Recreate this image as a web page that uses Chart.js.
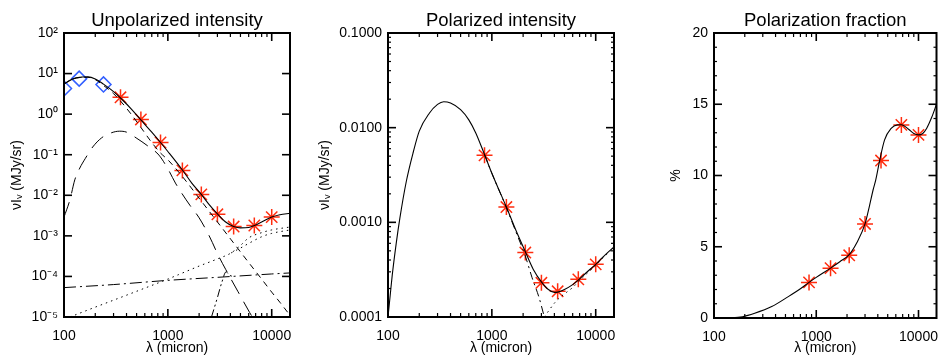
<!DOCTYPE html>
<html>
<head>
<meta charset="utf-8">
<script src="https://cdn.jsdelivr.net/npm/chart.js@4.4.1/dist/chart.umd.min.js"></script>
<style>
  body { margin: 0; background: #fff; width: 946px; height: 358px; overflow: hidden; position: relative; }
  canvas { position: absolute; top: 0; }
</style>
</head>
<body>
<canvas id="c_unpol" width="312" height="358" style="left:0px"></canvas>
<canvas id="c_pol" width="330" height="358" style="left:305px"></canvas>
<canvas id="c_frac" width="306" height="358" style="left:640px"></canvas>
<script>
// ---- panel 1 : unpolarized intensity (MJy/sr) ----
var lamTot = [100,120,150,170,200,240,300,350,450,550,700,850,1000,1380,1700,2100,2500,3000,3600,4300,5000,6000,6800,8000,10000,12000,15000];
var totI   = [5.5,7.3,8.2,8.3,7.4,5.5,3.6,2.5,1.3,0.72,0.36,0.2,0.12,0.042,0.02,0.0105,0.0059,0.0035,0.0022,0.0017,0.00157,0.0016,0.0018,0.0022,0.0029,0.0033,0.0036];
// main dust (short dash)
var lamDust1 = [100,120,150,170,200,240,300,350,450,550,700,850,1000,1380,2100,3000,4070,6000,8000,10000,12000,15000];
var dust1    = [5.5,7.25,8.1,8.1,7.1,5.1,3.2,2.1,0.95,0.47,0.2,0.11,0.075,0.029,0.0072,0.0022,0.0008,0.00022,0.000086,0.000041,0.000023,0.000011];
// second dust (long dash)
var lamDust2 = [100,114,127,142,160,189,230,280,341,400,495,650,820,1000,1183,1368,1645,1980,2500,3060,3600,4740,6120,6500];
var dust2    = [0.0029,0.0077,0.024,0.047,0.08,0.155,0.26,0.34,0.38,0.36,0.26,0.16,0.098,0.045,0.02,0.011,0.0055,0.0029,0.001,0.00033,0.00015,0.000042,0.000013,0.00001];
// dotted components
var lamMag1 = [114,200,300,500,1000,1260,2000,3000,4070,5000,6000,8000,10000,15000];
var mag1    = [1e-5,1.75e-5,2.6e-5,4.3e-5,8.6e-5,1.1e-4,1.8e-4,2.7e-4,3.8e-4,5.8e-4,8.9e-4,1.2e-3,1.4e-3,1.65e-3];
var lamMag2 = [4070,5000,6000,8000,10000,15000];
var mag2    = [3.8e-4,5.0e-4,6.5e-4,9.5e-4,1.15e-3,1.4e-3];
// dash-dot (nearly flat) and dash-dot-dot (peaked) components
var lamSync = [100,300,1000,3000,10000,15000];
var sync    = [5.3e-5,6.3e-5,8e-5,9.5e-5,1.15e-4,1.22e-4];
var lamPeak = [2630,3000,3300,3640,3900,4200];
var peak    = [1e-5,3e-5,7e-5,1.3e-4,1.08e-4,1.0e-4];
// observed points
var lamDiam = [100,140,240];
var diamI   = [4.3,7.5,5.4];
var lamStar = [350,550,850,1380,2100,3000,4300,6800,10000];
var starI   = [2.6,0.74,0.2,0.041,0.0105,0.0034,0.0017,0.0018,0.0029];

// ---- panel 2 : polarized intensity ----
var lamP = [100,105,110,120,130,150,175,200,250,300,344,400,500,600,700,850,1000,1380,1700,2100,2500,3000,3500,4000,4300,5000,6000,6800,8000,10000,12000,15000];
var totP = [1.0e-4,1.7e-4,2.8e-4,6e-4,0.0011,0.0027,0.0055,0.0092,0.0142,0.0176,0.0188,0.0182,0.0155,0.0121,0.0088,0.0052,0.0033,0.00145,0.00083,0.00049,0.00032,0.000235,0.000195,0.000182,0.000183,0.000195,0.00022,0.000245,0.00029,0.00036,0.00044,0.00055];
var lamPDust = [850,1000,1380,1700,2100,2440,2850,3200];
var pDust    = [0.0052,0.0033,0.00143,0.0008,0.00044,0.00026,0.00016,0.0001];
var lamPMag = [3200,3600,4000,4500,5160,6000,6800,8000,10000,12000,15000];
var pMag    = [1.0e-4,1.2e-4,1.4e-4,1.6e-4,1.8e-4,0.000205,0.000235,0.00028,0.00035,0.00043,0.00054];
var lamStarP = [850,1380,2100,3000,4300,6800,10000];
var starP    = [0.0051,0.00145,0.00048,0.00023,0.000187,0.00025,0.00036];

// ---- panel 3 : polarization fraction (%) ----
var lamF  = [100,150,190,250,367,533,700,850,1000,1380,1700,2100,2500,3000,3300,3600,3820,4170,4660,5400,6200,6800,8000,9000,10000,11000,12000,13500,15000];
var fracF = [0,0.02,0.09,0.33,0.8,1.5,2.05,2.5,2.85,3.5,3.95,4.45,5.3,6.6,7.8,9.0,9.7,11.05,12.5,13.3,13.55,13.56,13.25,12.95,12.85,12.95,13.3,14.1,15.0];
var lamStarF = [850,1380,2100,3000,4300,6800,10000];
var starF    = [2.5,3.5,4.4,6.6,11.05,13.55,12.85];

// ---- ticks ----
var xTicks = [100,1000,10000];
var xTickLabels = ['100','1000','10000'];
var yTicks1 = [1e-5,1e-4,1e-3,1e-2,1e-1,1,10,100];
var yTickLabels1 = ['10\u207B\u2075','10\u207B\u2074','10\u207B\u00B3','10\u207B\u00B2','10\u207B\u00B9','10\u2070','10\u00B9','10\u00B2'];
var yTicks2 = [1e-4,1e-3,1e-2,1e-1];
var yTickLabels2 = ['0.0001','0.0010','0.0100','0.1000'];
var yTicks3 = [0,5,10,15,20];
var yTickLabels3 = ['0','5','10','15','20'];

Chart.defaults.font.family = '"Liberation Sans", Arial, Helvetica, sans-serif';
Chart.defaults.color = '#000';
Chart.defaults.animation = false;

var RED = 'rgb(255,45,15)';
var BLUE = 'rgb(50,95,255)';

function pts(xs, ys) {
	var out = [];
	for (var i = 0; i < xs.length; i++) out.push({x: xs[i], y: ys[i]});
	return out;
}

function curve(xs, ys, dash, w) {
	return {
		data: pts(xs, ys), showLine: true, borderColor: '#000', borderWidth: w || 1,
		borderDash: dash || [], pointRadius: 0, pointHoverRadius: 0,
		cubicInterpolationMode: 'monotone', fill: false, clip: 0
	};
}

function marks(xs, ys, style, color, r) {
	return {
		data: pts(xs, ys), showLine: false, pointStyle: style, pointRadius: r, pointHoverRadius: r,
		borderColor: color, backgroundColor: 'rgba(0,0,0,0)', pointBorderWidth: 1.5, clip: 0
	};
}

// IDL-like box with inward ticks on the four sides
var framePlugin = {
	id: 'frame',
	afterDatasetsDraw: function(chart, args, o) {
		var ctx = chart.ctx, a = chart.chartArea;
		var sx = chart.scales.x, sy = chart.scales.y;
		ctx.save();
		ctx.strokeStyle = '#000';
		function seg(x1, y1, x2, y2, w) {
			ctx.lineWidth = w; ctx.beginPath(); ctx.moveTo(x1, y1); ctx.lineTo(x2, y2); ctx.stroke();
		}
		// x: log decades with 2..9 minor
		for (var e = 2; e <= 4; e++) {
			for (var k = 1; k <= 9; k++) {
				var v = k * Math.pow(10, e);
				if (v <= sx.min || v >= sx.max) continue;
				var px = sx.getPixelForValue(v);
				var len = k == 1 ? 8 : 4;
				seg(px, a.bottom, px, a.bottom - len, k == 1 ? 1.6 : 1.2);
				seg(px, a.top, px, a.top + len, k == 1 ? 1.6 : 1.2);
			}
		}
		// y ticks
		if (o.yLog) {
			var e0 = Math.round(Math.log10(sy.min)), e1 = Math.round(Math.log10(sy.max));
			for (var e = e0; e <= e1; e++) {
				for (var k = 1; k <= 9; k++) {
					if (k > 1 && !o.yMinor) continue;
					var v = k * Math.pow(10, e);
					if (v <= sy.min || v >= sy.max) continue;
					var py = sy.getPixelForValue(v);
					var len = k == 1 ? 8 : 3;
					seg(a.left, py, a.left + len, py, k == 1 ? 1.6 : 1.2);
					seg(a.right, py, a.right - len, py, k == 1 ? 1.6 : 1.2);
				}
			}
		} else {
			for (var v = sy.min + 1; v < sy.max; v++) {
				var py = sy.getPixelForValue(v);
				var major = v % 5 == 0;
				var len = major ? 8 : 3;
				seg(a.left, py, a.left + len, py, major ? 1.6 : 1.2);
				seg(a.right, py, a.right - len, py, major ? 1.6 : 1.2);
			}
		}
		ctx.lineWidth = 2;
		ctx.strokeRect(a.left, a.top, a.right - a.left, a.bottom - a.top);
		ctx.restore();
	}
};

function makePanel(id, cfg) {
	var xScale = {
		type: 'logarithmic', min: 100, max: 15000,
		grid: {display: false, drawTicks: false}, border: {display: false},
		ticks: {autoSkip: false, padding: 11, font: {size: 14},
			callback: function(v) { var i = xTicks.indexOf(v); return i < 0 ? '' : xTickLabels[i]; }},
		afterBuildTicks: function(s) { s.ticks = xTicks.map(function(v) { return {value: v}; }); },
		afterFit: function(s) { s.height = cfg.xHeight; s.paddingLeft = 0; s.paddingRight = 0; },
		title: {display: true, text: '\u03BB (micron)', font: {size: 14}, padding: {top: 0, bottom: 1.6}}
	};
	var yScale = {
		type: cfg.yLog ? 'logarithmic' : 'linear', min: cfg.yMin, max: cfg.yMax,
		grid: {display: false, drawTicks: false}, border: {display: false},
		ticks: {autoSkip: false, padding: 6, font: {size: 14},
			callback: function(v) { var i = cfg.yTicks.indexOf(v); return i < 0 ? '' : cfg.yLabels[i]; }},
		afterBuildTicks: function(s) { s.ticks = cfg.yTicks.map(function(v) { return {value: v}; }); },
		afterFit: function(s) { s.width = cfg.yWidth; s.paddingTop = 0; s.paddingBottom = 0; },
		title: {display: true, text: cfg.yTitle, font: {size: 14}, padding: {top: cfg.yTitlePad, bottom: 0}}
	};
	new Chart(document.getElementById(id), {
		type: 'scatter',
		data: {datasets: cfg.datasets},
		options: {
			responsive: false,
			layout: {padding: {left: 0, right: cfg.padRight, top: 0, bottom: 0}},
			scales: {x: xScale, y: yScale},
			plugins: {
				legend: {display: false},
				tooltip: {enabled: false},
				title: {display: true, text: cfg.title, fullSize: false,
					font: {size: 18.5, weight: 'normal'}, padding: {top: 9.6, bottom: 1.2}},
				frame: {yLog: cfg.yLog, yMinor: cfg.yMinor}
			}
		},
		plugins: [framePlugin]
	});
}

makePanel('c_unpol', {
	title: 'Unpolarized intensity', yTitle: '\u03BDI\u1D65 (MJy/sr)', yTitlePad: 8.6,
	yLog: true, yMin: 1e-5, yMax: 100, yMinor: false, yTicks: yTicks1, yLabels: yTickLabels1,
	yWidth: 64, xHeight: 41, padRight: 22,
	datasets: [
		curve(lamSync, sync, [12,4,2,4]),
		curve(lamPeak, peak, [8,3,2,3,2,3]),
		curve(lamMag1, mag1, [1.5,4]),
		curve(lamMag2, mag2, [1.5,4]),
		curve(lamDust2, dust2, [16,9]),
		curve(lamDust1, dust1, [6,5]),
		curve(lamTot, totI, [], 1.1),
		marks(lamDiam, diamI, 'rectRot', BLUE, 7.5),
		marks(lamStar, starI, 'star', RED, 8)
	]
});

makePanel('c_pol', {
	title: 'Polarized intensity', yTitle: '\u03BDI\u1D65 (MJy/sr)', yTitlePad: 11.6,
	yLog: true, yMin: 1e-4, yMax: 0.1, yMinor: true, yTicks: yTicks2, yLabels: yTickLabels2,
	yWidth: 83, xHeight: 41, padRight: 21,
	datasets: [
		curve(lamPMag, pMag, [1.5,4]),
		curve(lamPDust, pDust, [8,4,2,4]),
		curve(lamP, totP, [], 1.1),
		marks(lamStarP, starP, 'star', RED, 8)
	]
});

makePanel('c_frac', {
	title: 'Polarization fraction', yTitle: '%', yTitlePad: 27.6,
	yLog: false, yMin: 0, yMax: 20, yMinor: true, yTicks: yTicks3, yLabels: yTickLabels3,
	yWidth: 74, xHeight: 40, padRight: 7,
	datasets: [
		curve(lamF, fracF, [], 1.1),
		marks(lamStarF, starF, 'star', RED, 8)
	]
});
</script>
</body>
</html>
